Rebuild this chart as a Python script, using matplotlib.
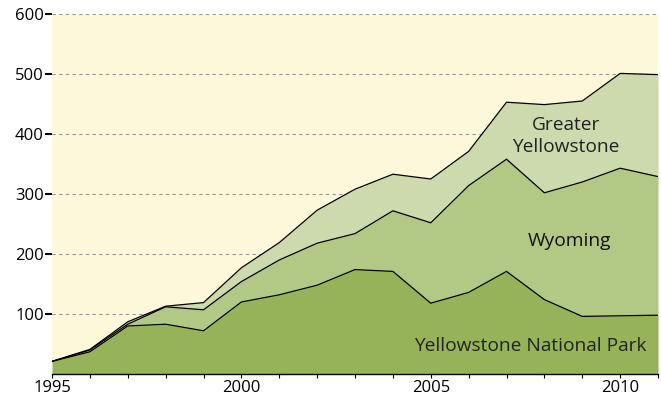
import numpy as np
import matplotlib.pyplot as plt
from matplotlib.ticker import MultipleLocator

plt.rcParams['font.family'] = ['Open Sans', 'DejaVu Sans']

years = np.arange(1995, 2012)
# cumulative totals read as stacked boundaries
park_total = [21, 37, 80, 83, 72, 120, 132, 148, 174, 171, 118, 136, 171, 124, 96, 97, 98]
wyoming_total = [21, 40, 83, 112, 107, 154, 190, 218, 234, 272, 252, 314, 358, 302, 320, 343, 329]
greater_total = [21, 41, 87, 113, 119, 177, 219, 273, 308, 333, 325, 371, 453, 449, 455, 501, 499]

c_bg = '#fdf8da'
c_park = '#97b35a'
c_wyo = '#b2c985'
c_gy = '#ccdaae'

fig = plt.figure(figsize=(6.61, 3.98), dpi=100)
ax = fig.add_axes([0.0787, 0.0603, 0.9168, 0.9045])
ax.set_facecolor(c_bg)

ax.fill_between(years, wyoming_total, greater_total, color=c_gy, lw=0, zorder=2)
ax.fill_between(years, park_total, wyoming_total, color=c_wyo, lw=0, zorder=2)
ax.fill_between(years, 0, park_total, color=c_park, lw=0, zorder=2)
for series in (park_total, wyoming_total, greater_total):
    ax.plot(years, series, color='black', lw=0.9, zorder=3)

ax.set_xlim(1995, 2011)
ax.set_ylim(0, 600)
ax.set_yticks([100, 200, 300, 400, 500, 600])
ax.yaxis.grid(True, ls=(0, (3, 3)), color='#999999', lw=0.8, zorder=1)
ax.set_axisbelow(True)

ax.xaxis.set_major_locator(MultipleLocator(5))
ax.xaxis.set_minor_locator(MultipleLocator(1))
ax.tick_params(axis='x', which='both', direction='out', length=3, width=0.8,
               labelsize=12, pad=1)
ax.tick_params(axis='y', length=5, width=1.5, labelsize=12, pad=1)

for side in ('left', 'top', 'right'):
    ax.spines[side].set_visible(False)
ax.spines['bottom'].set_linewidth(1.0)

ax.text(2008.57, 397, 'Greater\nYellowstone', ha='center', va='center',
        fontsize=13.8, color='#222222', linespacing=1.3, zorder=4)
ax.text(2008.65, 222, 'Wyoming', ha='center', va='center',
        fontsize=13.8, color='#111111', zorder=4)
ax.text(2007.62, 47, 'Yellowstone National Park', ha='center', va='center',
        fontsize=13.8, color='#222222', zorder=4)

fig.savefig('out.png', dpi=100)
